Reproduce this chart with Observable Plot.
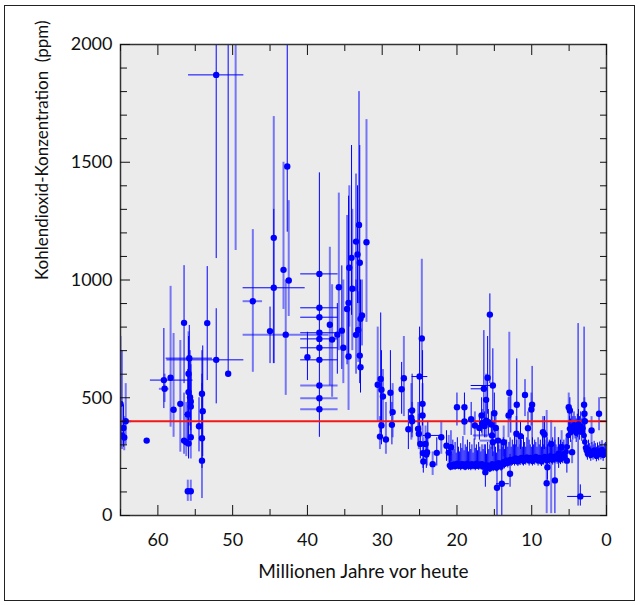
<!DOCTYPE html>
<html>
<head>
<meta charset="utf-8">
<script src="https://cdn.jsdelivr.net/npm/d3@7"></script>
<script src="https://cdn.jsdelivr.net/npm/@observablehq/plot@0.6"></script>
<style>
  body { margin: 0; background: #fff; }
  #wrap { position: relative; width: 640px; height: 605px; }
  #border { position: absolute; left: 4px; top: 5px; width: 631px; height: 596px; border: 1.5px solid #222; box-sizing: border-box; }
  #chart { position: absolute; left: 0; top: 0; }
</style>
</head>
<body>
<div id="wrap"><div id="border"></div><div id="chart"></div></div>
<script>
// [age (Ma), CO2 (ppm), errLow, errHigh, ageLow, ageHigh, kind (1 = solid bar, 0 = light bar)]
const paleocene = [
  [65.0, 474, 290, 760, null, null, 0],
  [64.3, 400, 300, 560, 65.2, 63.5, 0],
  [64.6, 372, 290, 470, null, null, 1],
  [64.8, 340, 280, 700, null, null, 1],
  [64.5, 331, 275, 420, null, null, 0],
  [61.5, 318, null, null, null, null, 1],
  [59.2, 575, 454, 794, 61.0, 55.3, 1],
  [59.1, 538, 480, 600, 59.8, 58.5, 0],
  [58.3, 585, 375, 973, null, null, 0],
  [57.9, 449, 332, 773, 58.3, 57.5, 0],
  [57.0, 474, 269, 743, null, null, 0],
  [56.5, 818, 560, 1061, null, null, 1],
  [56.5, 318, 260, 520, null, null, 0],
  [56.2, 311, 250, 480, null, null, 0],
  [55.9, 306, 240, 560, null, null, 1],
  [55.8, 668, 450, 807, 58.9, 52.7, 1],
  [55.9, 602, 420, 780, null, null, 0],
  [55.9, 524, 400, 760, null, null, 1],
  [55.7, 502, 380, 700, null, null, 0],
  [55.6, 484, 360, 660, null, null, 1],
  [55.6, 463, 340, 640, null, null, 0],
  [56.0, 429, 300, 620, 56.4, 55.6, 1],
  [55.6, 332, 240, 600, null, null, 0],
  [56.0, 103, 60, 150, 56.3, 55.5, 0],
  [55.6, 103, 60, 150, null, null, 0],
  [54.1, 517, 320, 700, null, null, 0],
  [54.0, 443, 250, 720, null, null, 1],
  [54.5, 379, 270, 500, null, null, 1],
  [54.1, 328, 200, 560, null, null, 0],
  [54.1, 233, 72, 600, null, null, 1],
  [53.4, 817, 573, 1057, null, null, 1],
  [52.2, 1871, 1091, 2600, 55.9, 48.5, 1],
  [52.2, 661, 474, 878, 58.8, 48.5, 1],
  [50.6, 602, 590, 2600, null, null, 1],
  [49.6, 2300, 1125, 3000, null, null, 0]
];
const eocene = [
  [47.3, 910, 608, 1214, 48.6, 46.0, 0],
  [44.5, 1179, 645, 1694, null, null, 0],
  [44.5, 967, 645, 1300, 48.6, 40.3, 1],
  [45.0, 783, 645, 885, null, null, 1],
  [43.2, 1043, 875, 1500, null, null, 0],
  [42.7, 1482, 1203, 2600, null, null, 1],
  [42.5, 998, 845, 1337, null, null, 0],
  [42.9, 768, 510, 1000, 48.6, 37.1, 0],
  [40.0, 672, 573, 778, null, null, 1],
  [38.4, 1026, 332, 1455, 40.9, 35.9, 1],
  [38.4, 882, null, null, 40.9, 35.9, 1],
  [38.4, 842, null, null, 40.9, 35.9, 1],
  [38.4, 776, null, null, 40.9, 35.9, 1],
  [38.4, 750, null, null, 40.9, 35.9, 1],
  [38.4, 712, null, null, 40.9, 35.9, 1],
  [38.4, 661, null, null, 40.9, 35.9, 1],
  [38.4, 552, null, null, 40.9, 35.9, 0],
  [38.4, 498, null, null, 40.9, 35.9, 0],
  [38.4, 451, null, null, 40.9, 35.9, 0],
  [37.0, 810, 550, 1139, null, null, 0],
  [36.7, 747, 502, 980, null, null, 0],
  [35.8, 969, 700, 1369, null, null, 0],
  [36.0, 768, 600, 900, null, null, 1],
  [35.4, 785, 620, 1060, null, null, 1],
  [35.2, 712, 560, 1000, null, null, 0],
  [34.7, 877, 640, 1274, null, null, 1],
  [34.5, 903, 680, 1356, null, null, 1],
  [34.5, 675, 446, 900, null, null, 0],
  [34.4, 1052, 800, 1400, null, null, 0],
  [34.1, 1094, 850, 1571, null, null, 1],
  [34.0, 963, 700, 1300, null, null, 0],
  [33.5, 1163, 950, 1450, null, null, 0],
  [33.3, 1108, 900, 1400, null, null, 1],
  [33.1, 1234, 900, 1800, null, null, 0],
  [33.0, 1073, 800, 1571, null, null, 1],
  [32.1, 1160, 820, 1681, null, null, 0],
  [33.5, 767, 600, 1000, null, null, 1],
  [33.2, 788, 650, 950, null, null, 0],
  [32.9, 835, 700, 1000, null, null, 1],
  [32.7, 849, 720, 1000, null, null, 0],
  [33.0, 679, 560, 800, null, null, 1],
  [32.9, 630, 520, 760, null, null, 1]
];
const oligocene = [
  [30.6, 555, 400, 800, null, null, 0],
  [30.2, 580, 350, 860, null, null, 1],
  [30.1, 534, 400, 700, null, null, 1],
  [29.9, 505, 380, 620, null, null, 0],
  [30.1, 382, 300, 520, null, null, 1],
  [30.3, 335, 280, 420, null, null, 0],
  [29.5, 323, 260, 480, null, null, 0],
  [28.9, 521, 420, 700, null, null, 1],
  [28.6, 439, 330, 560, null, null, 0],
  [28.7, 385, 300, 480, null, null, 1],
  [27.4, 536, 430, 650, null, null, 1],
  [27.1, 583, 420, 760, null, null, 0],
  [26.5, 366, 280, 450, null, null, 1],
  [26.1, 415, 320, 560, null, null, 0],
  [26.0, 446, 350, 600, null, null, 1],
  [26.0, 400, 330, 480, null, null, 0],
  [25.0, 590, 360, 800, 26.0, 23.9, 1],
  [24.7, 752, 600, 1088, null, null, 0],
  [24.6, 474, 380, 700, null, null, 1],
  [24.6, 425, 330, 560, null, null, 0],
  [25.2, 368, 300, 480, null, null, 1],
  [25.1, 347, 280, 430, null, null, 0],
  [24.9, 304, 240, 380, null, null, 1],
  [24.55, 265, 200, 330, null, null, 0],
  [24.5, 229, 180, 300, null, null, 1],
  [24.2, 304, 240, 380, null, null, 0],
  [24.1, 259, 200, 330, null, null, 1],
  [24.0, 269, 210, 340, null, null, 0],
  [23.9, 340, 280, 400, 24.5, 22.3, 1],
  [23.25, 218, 170, 270, null, null, 0],
  [22.7, 266, 210, 330, null, null, 1],
  [22.1, 332, 260, 400, null, null, 0],
  [21.4, 296, 230, 360, null, null, 1],
  [21.1, 267, 200, 340, null, null, 0],
  [20.8, 290, 230, 360, null, null, 1]
];
const miocene = [
  [20.0, 460, 380, 520, null, null, 1],
  [19.0, 460, 400, 520, null, null, 1],
  [19.0, 399, 340, 460, null, null, 0],
  [18.1, 409, 340, 480, null, null, 1],
  [17.6, 382, 320, 440, null, null, 0],
  [17.0, 372, 320, 430, null, null, 1],
  [16.7, 425, 350, 500, null, null, 1],
  [16.6, 392, 340, 450, null, null, 0],
  [16.4, 538, 420, 785, 18.1, 16.3, 1],
  [16.3, 380, 330, 440, null, null, 1],
  [15.9, 585, 430, 760, null, null, 1],
  [15.8, 396, 340, 450, null, null, 1],
  [15.6, 853, 560, 941, null, null, 1],
  [16.1, 491, 380, 600, null, null, 0],
  [15.2, 552, 420, 708, 18.1, 15.0, 1],
  [15.0, 434, 350, 520, null, null, 1],
  [16.1, 403, 330, 480, null, null, 0],
  [15.4, 386, 330, 440, null, null, 1],
  [15.3, 340, 280, 420, 17.8, 14.8, 0],
  [15.2, 311, 250, 380, null, null, 1],
  [14.8, 372, 320, 430, null, null, 1],
  [14.5, 318, 270, 370, 16.9, 13.7, 0],
  [16.2, 184, 120, 300, null, null, 1],
  [14.65, 118, 0, 233, null, null, 0],
  [14.0, 135, -10, 306, 14.7, 13.0, 1],
  [13.75, 311, 250, 380, null, null, 0],
  [13.0, 521, 400, 778, null, null, 0],
  [12.8, 439, 350, 520, null, null, 1],
  [13.1, 425, 330, 500, null, null, 0],
  [12.9, 177, 120, 260, null, null, 1],
  [12.0, 470, 347, 665, null, null, 1],
  [12.05, 347, 290, 420, null, null, 0],
  [11.5, 337, 280, 400, null, null, 1],
  [10.9, 512, 420, 577, null, null, 0],
  [10.5, 371, 300, 440, null, null, 1],
  [9.95, 470, 300, 633, null, null, 1],
  [10.05, 450, 380, 520, null, null, 0],
  [8.5, 354, 280, 420, null, null, 0],
  [8.3, 344, 280, 420, null, null, 1],
  [7.9, 205, 150, 300, null, null, 1],
  [8.0, 137, 8, 446, null, null, 0],
  [7.4, 304, 8, 403, null, null, 0],
  [6.9, 149, 8, 375, null, null, 1],
  [6.4, 262, 200, 330, null, null, 1],
  [6.0, 290, 230, 360, null, null, 0],
  [5.3, 233, 180, 300, null, null, 1]
];
const pliocene = [
  [5.05, 460, 380, 520, null, null, 0],
  [4.9, 446, 380, 500, null, null, 1],
  [4.6, 269, 220, 320, null, null, 0],
  [3.8, 360, 40, 815, null, null, 1],
  [3.0, 470, 348, 800, null, null, 1],
  [2.95, 432, 360, 500, null, null, 0],
  [2.9, 400, 340, 460, null, null, 1],
  [3.5, 81, 40, 130, 5.2, 2.0, 1],
  [2.0, 361, 300, 420, null, null, 0],
  [1.0, 432, 360, 500, null, null, 1]
];
// dense high-resolution record: [age, CO2, errLow, errHigh]
const neogeneBand = [
  [21.0,212,195,270],[20.85,206,190,300],[20.7,215,198,260],[20.55,210,192,320],[20.4,218,200,280],
  [20.25,208,192,310],[20.1,214,196,265],[19.95,222,200,330],[19.8,210,194,290],[19.65,216,198,270],
  [19.5,208,190,305],[19.35,220,200,285],[19.2,212,195,335],[19.05,218,200,275],[18.9,206,190,300],
  [18.75,214,196,290],[18.6,222,202,320],[18.45,210,192,270],[18.3,216,198,310],[18.15,208,190,280],
  [18.0,220,200,300],[17.85,212,194,265],[17.7,216,198,325],[17.55,208,190,285],[17.4,222,202,300],
  [17.25,214,196,275],[17.1,210,192,310],[16.95,218,200,290],[16.8,212,194,270],[16.65,220,200,300],
  [16.5,206,190,280],[16.35,214,196,300],[16.2,208,190,270],[16.05,200,185,260],[15.9,214,196,310],
  [15.75,206,188,280],[15.6,198,182,300],[15.45,212,192,290],[15.3,220,200,320],[15.15,204,186,270],
  [15.0,210,192,300],[14.85,218,198,290],[14.7,202,185,265],[14.55,212,194,320],[14.4,224,204,300],
  [14.25,214,196,280],[14.1,206,188,310],[13.95,220,200,290],[13.8,228,206,330],[13.65,218,198,280],
  [13.5,226,206,300],[13.35,234,212,320],[13.2,222,202,290],[13.05,230,210,310],[12.9,238,215,330],
  [12.75,228,208,290],[12.6,234,212,320],[12.45,240,218,300],[12.3,230,210,340],[12.15,244,220,300],
  [12.0,236,214,320],[11.85,228,208,290],[11.7,242,220,330],[11.55,234,212,300],[11.4,246,222,320],
  [11.25,236,214,290],[11.1,230,210,340],[10.95,244,220,310],[10.8,236,214,290],[10.65,248,224,330],
  [10.5,240,218,300],[10.35,232,210,320],[10.2,246,222,300],[10.05,238,216,290],[9.9,230,210,330],
  [9.75,244,220,300],[9.6,236,214,320],[9.45,250,226,310],[9.3,240,218,290],[9.15,232,210,330],
  [9.0,246,222,300],[8.85,238,216,320],[8.7,228,208,290],[8.55,244,220,340],[8.4,236,214,300],
  [8.25,250,226,320],[8.1,240,218,290],[7.95,232,210,330],[7.8,246,222,300],[7.65,238,216,320],
  [7.5,254,230,310],[7.35,244,220,290],[7.2,236,214,330],[7.05,250,226,300],[6.9,242,220,320],
  [6.75,252,228,300],[6.6,240,218,290],[6.45,256,232,330],[6.3,246,222,300],[6.15,238,216,320],
  [6.0,252,228,300],[5.85,244,220,310],[5.7,262,236,320],[5.55,250,226,300],[5.4,270,244,330],
  [5.25,292,260,340]
];
const plioBand = [
  [5.1,340,300,400],[4.95,368,330,420],[4.8,352,310,410],[4.65,378,340,440],[4.5,360,320,420],
  [4.35,385,345,440],[4.2,366,325,420],[4.05,350,310,410],[3.9,372,330,430],[3.75,388,350,450],
  [3.6,362,320,420],[3.45,380,340,440],[3.3,355,315,410],[3.15,370,330,430],[3.0,340,300,400],
  [2.9,312,280,360],[2.8,288,255,330],[2.7,276,245,310],[2.55,262,235,300],[2.4,280,250,320],
  [2.25,268,240,305],[2.1,256,230,295],[1.95,272,245,310],[1.8,260,235,300],[1.65,278,250,315],
  [1.5,266,240,305],[1.35,252,228,290],[1.2,270,244,308],[1.05,258,232,296],[0.9,275,248,312],
  [0.75,262,236,300],[0.6,280,252,318],[0.45,256,230,292],[0.3,268,242,305],[0.15,272,246,310],
  [0.0,262,236,300]
];
const presentLevel = [400];
const xMajor = [0, 10, 20, 30, 40, 50, 60];
const xMinor = [5, 15, 25, 35, 45, 55, 65];
const yMajor = [0, 500, 1000, 1500, 2000];
const yMinor = [100, 200, 300, 400, 600, 700, 800, 900, 1100, 1200, 1300, 1400, 1600, 1700, 1800, 1900];
const yAll = [0, 100, 200, 300, 400, 500, 600, 700, 800, 900, 1000, 1100, 1200, 1300, 1400, 1500, 1600, 1700, 1800, 1900, 2000];
const xLabel = "Millionen Jahre vor heute";
const yLabel = "Kohlendioxid-Konzentration \u00a0(ppm)";

const rows = [...paleocene, ...eocene, ...oligocene, ...miocene, ...pliocene]
  .map(([age, co2, lo, hi, a1, a2, k]) => ({age, co2, lo, hi, a1, a2, k}));
const band = [...neogeneBand, ...plioBand].map(([age, co2, lo, hi]) => ({age, co2, lo, hi}));

const BLUE = "#0000ff";
const vert = rows.filter(d => d.lo != null);
const horiz = rows.filter(d => d.a1 != null);
const empty = () => "";
const plain = d => String(d);

const chart = Plot.plot({
  width: 640,
  height: 605,
  marginLeft: 120,
  marginRight: 34,
  marginTop: 44,
  marginBottom: 90,
  style: {fontFamily: "Lato, 'Open Sans', sans-serif", fontSize: "18px", background: "transparent", color: "#111"},
  x: {domain: [65, 0]},
  y: {domain: [0, 2000]},
  marks: [
    Plot.frame({fill: "#ebebeb"}),
    Plot.ruleX(band, {x: "age", y1: "lo", y2: "hi", stroke: BLUE, strokeWidth: 1, clip: true}),
    Plot.ruleX(vert.filter(d => d.k === 0), {x: "age", y1: "lo", y2: "hi", stroke: BLUE, strokeOpacity: 0.5, strokeWidth: 2, clip: true}),
    Plot.ruleX(vert.filter(d => d.k === 1), {x: "age", y1: "lo", y2: "hi", stroke: BLUE, strokeWidth: 1, clip: true}),
    Plot.ruleY(horiz.filter(d => d.k === 0), {y: "co2", x1: "a1", x2: "a2", stroke: BLUE, strokeOpacity: 0.5, strokeWidth: 2, clip: true}),
    Plot.ruleY(horiz.filter(d => d.k === 1), {y: "co2", x1: "a1", x2: "a2", stroke: BLUE, strokeWidth: 1, clip: true}),
    Plot.ruleY(presentLevel, {stroke: "#f01818", strokeWidth: 2}),
    Plot.dot(band, {x: "age", y: "co2", r: 2.8, fill: BLUE, clip: true}),
    Plot.dot(rows, {x: "age", y: "co2", r: 3.2, fill: BLUE, clip: true}),
    Plot.frame({stroke: "#333", strokeWidth: 1.5}),
    Plot.axisX(xMajor, {tickSize: -10, tickPadding: 28, tickFormat: plain, label: null}),
    Plot.axisX(xMinor, {tickSize: -6, tickFormat: empty, label: null}),
    Plot.axisX(xMajor, {anchor: "top", tickSize: -10, tickFormat: empty, label: null}),
    Plot.axisX(xMinor, {anchor: "top", tickSize: -6, tickFormat: empty, label: null}),
    Plot.axisY(yMajor, {tickSize: -10, tickPadding: 18, tickFormat: plain, label: null}),
    Plot.axisY(yMinor, {tickSize: -7, tickFormat: empty, label: null}),
    Plot.axisY(yAll, {anchor: "right", tickSize: -7, tickFormat: empty, label: null}),
    Plot.text([xLabel], {frameAnchor: "bottom", dy: 62, fontSize: 19}),
    Plot.text([yLabel], {frameAnchor: "left", rotate: -90, dx: -78, fontSize: 17})
  ]
});
document.getElementById("chart").appendChild(chart);
</script>
</body>
</html>
